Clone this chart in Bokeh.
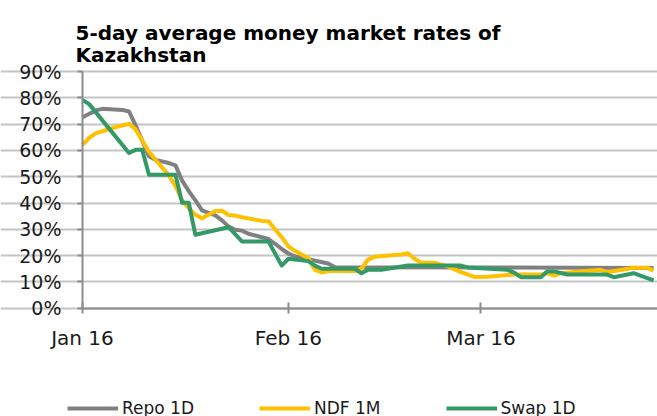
import pandas as pd
from bokeh.plotting import figure
from bokeh.models import (Range1d, FixedTicker, PrintfTickFormatter, DatetimeTickFormatter,
                          Label, Legend, LegendItem)
from bokeh.embed import file_html
from bokeh.resources import INLINE

# ---------------- data ----------------
repo_dates = ["2016-01-01", "2016-01-03", "2016-01-04", "2016-01-07", "2016-01-08", "2016-01-09",
              "2016-01-11", "2016-01-12", "2016-01-14", "2016-01-15", "2016-01-16", "2016-01-17",
              "2016-01-18", "2016-01-19", "2016-01-21", "2016-01-22", "2016-01-23", "2016-01-24",
              "2016-01-25", "2016-01-26", "2016-01-28", "2016-01-29", "2016-01-30", "2016-01-31",
              "2016-02-01", "2016-02-02", "2016-02-04", "2016-02-07", "2016-02-08", "2016-03-27"]
repo_vals = [72.6, 75.2, 75.8, 75.4, 74.8, 69.5,
             57.8, 56.4, 55.2, 54.3, 48.5, 44.5,
             41.0, 37.2, 35.3, 33.4, 31.0, 29.8,
             29.5, 28.3, 27.0, 26.3, 24.5, 22.5,
             20.8, 19.7, 18.6, 17.0, 15.6, 15.3]

ndf_dates = ["2016-01-01", "2016-01-02", "2016-01-03", "2016-01-06", "2016-01-08", "2016-01-09",
             "2016-01-11", "2016-01-14", "2016-01-15", "2016-01-16", "2016-01-17", "2016-01-18",
             "2016-01-19", "2016-01-21", "2016-01-22", "2016-01-23", "2016-01-24", "2016-01-25",
             "2016-01-28", "2016-01-29", "2016-01-30", "2016-01-31", "2016-02-01", "2016-02-02",
             "2016-02-04", "2016-02-05", "2016-02-06", "2016-02-07", "2016-02-11", "2016-02-12",
             "2016-02-13", "2016-02-14", "2016-02-18", "2016-02-19", "2016-02-20", "2016-02-21",
             "2016-02-23", "2016-02-25", "2016-02-27", "2016-02-29", "2016-03-02", "2016-03-06",
             "2016-03-10", "2016-03-11", "2016-03-12", "2016-03-13", "2016-03-19", "2016-03-20",
             "2016-03-24", "2016-03-26", "2016-03-27"]
ndf_vals = [62.1, 64.8, 66.5, 68.9, 70.1, 68.0,
            59.5, 50.5, 46.5, 41.0, 38.0, 35.5,
            34.2, 37.0, 37.1, 35.4, 35.2, 34.6,
            33.2, 33.1, 30.0, 27.0, 23.5, 21.8,
            19.0, 14.6, 13.6, 14.1, 14.1, 15.0,
            18.5, 19.6, 20.4, 20.9, 18.8, 17.3,
            17.3, 15.9, 13.7, 11.9, 12.0, 12.8,
            12.8, 13.3, 12.4, 13.3, 14.6, 13.7,
            15.4, 15.4, 14.3]

swap_dates = ["2016-01-01", "2016-01-02", "2016-01-08", "2016-01-09", "2016-01-10", "2016-01-11",
              "2016-01-15", "2016-01-16", "2016-01-17", "2016-01-18", "2016-01-23", "2016-01-25",
              "2016-01-29", "2016-01-31", "2016-02-01", "2016-02-04", "2016-02-05", "2016-02-06",
              "2016-02-11", "2016-02-12", "2016-02-13", "2016-02-15", "2016-02-19", "2016-02-27",
              "2016-02-28", "2016-03-05", "2016-03-06", "2016-03-07", "2016-03-10", "2016-03-11",
              "2016-03-12", "2016-03-14", "2016-03-20", "2016-03-21", "2016-03-24", "2016-03-25",
              "2016-03-27"]
swap_vals = [79.2, 77.6, 59.0, 60.2, 60.2, 50.7,
             50.7, 40.1, 40.1, 27.9, 30.8, 25.4,
             25.4, 16.2, 18.8, 17.9, 16.2, 15.0,
             15.0, 13.3, 14.6, 14.6, 16.2, 16.2,
             15.5, 14.6, 13.5, 11.8, 11.8, 14.0,
             14.0, 12.8, 12.8, 11.8, 13.3, 12.4,
             10.6]

series_names = ["Repo 1D", "NDF 1M", "Swap 1D"]
series_colors = ["#808080", "#FFC000", "#339966"]

x_first, x_last = "2016-01-01 00:00", "2016-03-27 14:00"
x_tick_dates = ["2016-01-01", "2016-02-01", "2016-03-01"]
x_tick_labels = ["Jan 16", "Feb 16", "Mar 16"]
y_ticks = [0, 10, 20, 30, 40, 50, 60, 70, 80, 90]
title_lines = ["5-day average money market rates of", "Kazakhstan"]

FONT = "DejaVu Sans"

# ---------------- layout (pixels) ----------------
W, H = 657, 416
AXIS_LEFT_PX = 82        # where the value axis sits
TOP_TICK_PX = 71         # 90% line
ZERO_PX = 307.7          # 0% line

t0, t1 = pd.Timestamp(x_first), pd.Timestamp(x_last)
px_per_sec = (W - AXIS_LEFT_PX) / (t1 - t0).total_seconds()
x_start = t0 - pd.Timedelta(seconds=AXIS_LEFT_PX / px_per_sec)
px_per_unit = (ZERO_PX - TOP_TICK_PX) / (y_ticks[-1] - y_ticks[0])
y_start = y_ticks[0] - (H - ZERO_PX) / px_per_unit
y_end = y_ticks[-1] + TOP_TICK_PX / px_per_unit

ms = lambda t: pd.Timestamp(t).value / 10**6

# the frame covers the whole canvas; axes are pinned at Jan 1 / 0%
p = figure(width=W, height=H, x_axis_type="datetime",
           x_range=Range1d(x_start, t1), y_range=Range1d(y_start, y_end),
           output_backend="svg", toolbar_location=None)
p.title = None
p.min_border = 0
p.outline_line_color = None
p.background_fill_color = "white"
p.border_fill_color = "white"

p.xgrid.visible = False
p.ygrid.grid_line_color = "#C4C4C4"
p.ygrid.grid_line_width = 2
p.ygrid.bounds = (ms(t0), ms(t1))

tick_ms = [ms(d) for d in x_tick_dates]
p.xaxis.ticker = FixedTicker(ticks=tick_ms)
p.xaxis.formatter = DatetimeTickFormatter(days="%b %y", months="%b %y", years="%b %y", hours="%b %y")
p.xaxis.major_label_overrides = {t: lab for t, lab in zip(tick_ms, x_tick_labels)}
p.xaxis.fixed_location = y_ticks[0]
p.xaxis.bounds = (ms(t0), ms(t1))
p.yaxis.ticker = FixedTicker(ticks=y_ticks)
p.yaxis.formatter = PrintfTickFormatter(format="%d%%")
p.yaxis.fixed_location = ms(t0)
p.yaxis.bounds = (y_ticks[0], y_ticks[-1])

for ax in (p.xaxis[0], p.yaxis[0]):
    ax.axis_line_color = "#8C8C8C"
    ax.axis_line_width = 2
    ax.major_tick_line_color = "#8C8C8C"
    ax.major_tick_line_width = 2
    ax.minor_tick_line_color = None
    ax.major_label_text_font = FONT
    ax.major_label_text_color = "#1A1A1A"

p.xaxis.major_tick_in = 6
p.xaxis.major_tick_out = 5
p.xaxis.major_label_text_font_size = "20px"
p.xaxis.major_label_standoff = 13
p.yaxis.major_tick_in = 0
p.yaxis.major_tick_out = 5
p.yaxis.major_label_text_font_size = "19px"
p.yaxis.major_label_standoff = 16

renderers = []
for dates, vals, color in ((repo_dates, repo_vals, series_colors[0]),
                           (ndf_dates, ndf_vals, series_colors[1]),
                           (swap_dates, swap_vals, series_colors[2])):
    r = p.line(pd.to_datetime(dates), vals, line_color=color, line_width=4,
               line_join="round")
    renderers.append(r)

legend = Legend(items=[LegendItem(label=n, renderers=[r]) for n, r in zip(series_names, renderers)],
                location=(67, -2), orientation="horizontal",
                glyph_width=51, glyph_height=20, label_standoff=4, spacing=65,
                padding=0, margin=0, border_line_color=None, background_fill_alpha=0,
                label_text_font=FONT, label_text_font_size="17px", label_height=20,
                label_text_color="#1A1A1A")
p.add_layout(legend)

# title lines (screen units measured from the frame's bottom-left corner)
for line_text, baseline_px in zip(title_lines, (32, 54)):
    p.add_layout(Label(x=75, y=H - baseline_px, x_units="screen", y_units="screen",
                       text=line_text, text_font=FONT, text_font_style="bold",
                       text_font_size="20px", text_baseline="alphabetic",
                       text_color="#000000"))

open("out.html", "w").write(file_html(p, INLINE))
